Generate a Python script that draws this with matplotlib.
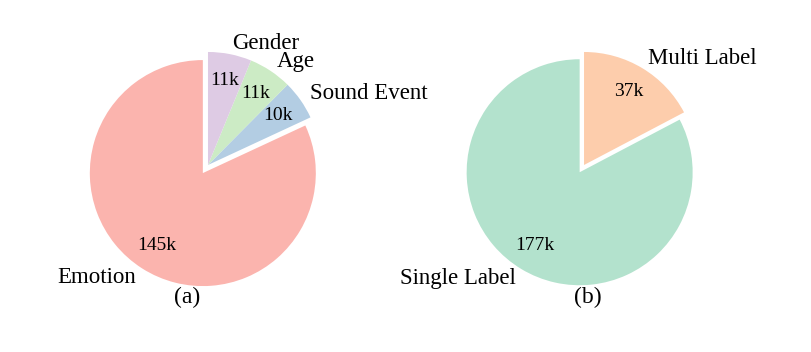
import matplotlib
matplotlib.use("Agg")
import matplotlib.pyplot as plt

plt.rcParams['font.family'] = ['Liberation Serif', 'DejaVu Serif']

# (a) task types, values in thousands
task_labels = ['Emotion', 'Sound Event', 'Age', 'Gender']
task_counts = [145, 10, 11, 11]
task_colors = ['#FBB4AE', '#B3CDE3', '#CCEBC5', '#DECBE4']
task_explode = [0.085, 0, 0, 0]

# (b) label types, values in thousands
label_labels = ['Single Label', 'Multi Label']
label_counts = [177, 37]
label_colors = ['#B3E2CD', '#FDCDAC']
label_explode = [0.075, 0]


def fmt_k(values):
    total = sum(values)
    return lambda p: f"{round(p * total / 100):d}k"


fig = plt.figure(figsize=(8.12, 3.52), dpi=100)
ax1 = fig.add_axes([0.0822, 0.13, 0.3479, 0.8026])
ax2 = fig.add_axes([0.5453, 0.13, 0.3479, 0.8026])

for ax, labels, counts, colors, explode in [
    (ax1, task_labels, task_counts, task_colors, task_explode),
    (ax2, label_labels, label_counts, label_colors, label_explode),
]:
    wedges, texts, autotexts = ax.pie(
        counts, labels=labels, colors=colors, explode=explode,
        startangle=90, counterclock=True, autopct=fmt_k(counts),
        pctdistance=0.76, labeldistance=1.1,
        textprops={'fontsize': 16.5})
    for t in autotexts:
        t.set_fontsize(14)
    ax.set_xlim(-1.25, 1.25)
    ax.set_ylim(-1.25, 1.25)
    ax.set_aspect('equal')

fig.text(0.230, 0.156, '(a)', ha='center', va='center', fontsize=17)
fig.text(0.724, 0.156, '(b)', ha='center', va='center', fontsize=17)

fig.savefig('out.png', dpi=100)
